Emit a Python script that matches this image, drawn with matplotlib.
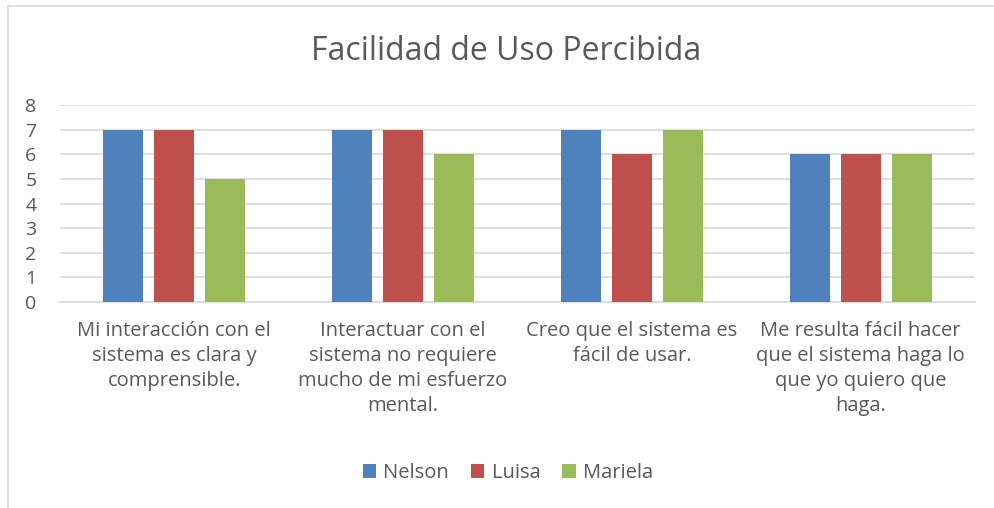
import numpy as np
import matplotlib.pyplot as plt
from matplotlib.patches import Rectangle

# Data
categories = [
    "Mi interacción con el\nsistema es clara y\ncomprensible.",
    "Interactuar con el\nsistema no requiere\nmucho de mi esfuerzo\nmental.",
    "Creo que el sistema es\nfácil de usar.",
    "Me resulta fácil hacer\nque el sistema haga lo\nque yo quiero que\nhaga.",
]
series_names = ["Nelson", "Luisa", "Mariela"]
nelson = [7, 7, 7, 6]
luisa = [7, 7, 6, 6]
mariela = [5, 6, 7, 6]
colors = ["#4F81BD", "#C0504D", "#9BBB59"]

plt.rcParams['font.family'] = ['Open Sans', 'DejaVu Sans']
text_color = "#595959"
grid_color = "#D9D9D9"

fig = plt.figure(figsize=(9.95, 5.08), dpi=100)
ax = fig.add_axes([60 / 995, 1 - 302 / 508, 915 / 995, 197 / 508])

x = np.arange(len(categories))
width = 0.175
step = 0.223
for i, (name, vals) in enumerate(zip(series_names, [nelson, luisa, mariela])):
    ax.bar(x + (i - 1) * step, vals, width, color=colors[i], label=name, zorder=3)

ax.set_xlim(-0.5, len(categories) - 0.5)
ax.set_ylim(0, 8)
ax.set_yticks(range(0, 9))
ax.yaxis.grid(True, color=grid_color, linewidth=1.2, zorder=0)
ax.tick_params(axis='y', length=0, labelsize=14, labelcolor=text_color, pad=25)
ax.tick_params(axis='x', length=0)
ax.set_xticks(x)
ax.set_xticklabels(categories, fontsize=14.5, color=text_color, linespacing=1.33)
ax.tick_params(axis='x', pad=14)
for s in ['top', 'right', 'left']:
    ax.spines[s].set_visible(False)
ax.spines['bottom'].set_color(grid_color)
ax.spines['bottom'].set_linewidth(1.2)
for lbl in ax.get_yticklabels():
    lbl.set_horizontalalignment('left')

fig.text(506 / 995, 1 - 52 / 508, "Facilidad de Uso Percibida", ha='center', va='center',
         fontsize=23, color=text_color)

fig.legend(loc='center', bbox_to_anchor=(508 / 995, 1 - 473 / 508), ncol=3, frameon=False,
           fontsize=14.5, labelcolor=text_color, handlelength=0.65, handleheight=0.65,
           handletextpad=0.35, columnspacing=1.1)

# chart border
fig.patches.append(Rectangle((8 / 995, -0.1), 1.2, 1 - 6 / 508 + 0.1, transform=fig.transFigure,
                             fill=False, edgecolor=grid_color, linewidth=1.2))

fig.savefig("out.png", dpi=100)
